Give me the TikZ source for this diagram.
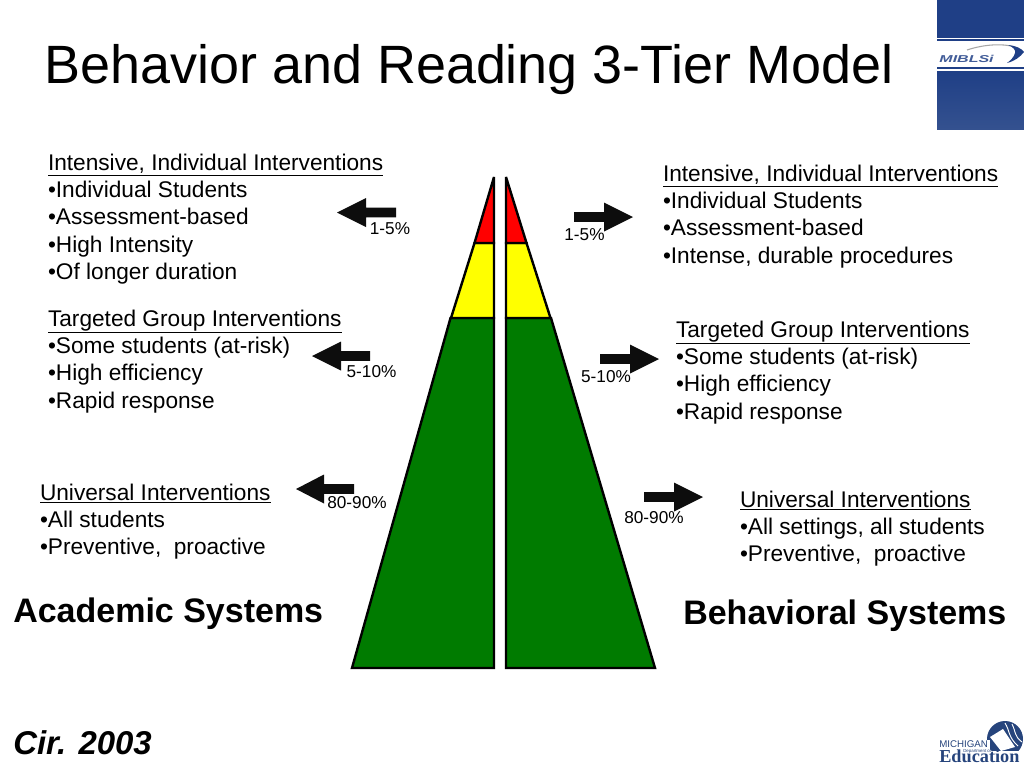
\documentclass[tikz,border=0pt]{standalone}
\usepackage{fontspec}
\setmainfont{Liberation Sans}
\newfontfamily\edufont{Liberation Serif}
\definecolor{tiergreen}{HTML}{007B00}
\definecolor{tieryellow}{HTML}{FFFF00}
\definecolor{tierred}{HTML}{FF0000}
\definecolor{logoblue}{HTML}{1F3F86}
\definecolor{logolight}{HTML}{34518F}
\definecolor{edublue}{HTML}{26447C}
\tikzset{
  tier/.style={draw=black,line width=1.8pt,line join=miter},
  blockarrow/.style={fill=black!95!white,draw=none},
  txtblock/.style={inner sep=0pt,outer sep=0pt,align=left,anchor=base west,font=\fontsize{17}{20.5}\selectfont},
  pct/.style={inner sep=0pt,anchor=base,font=\fontsize{12.9}{15}\selectfont},
  sysname/.style={inner sep=0pt,anchor=base west,font=\fontsize{25.5}{30}\selectfont\bfseries},
}
% tip x, base x, tail x, centre y
\newcommand{\harrow}[4]{\fill[blockarrow] (#1,#4) -- (#2,#4-14.5) -- (#2,#4-4.8) -- (#3,#4-4.8) -- (#3,#4+4.8) -- (#2,#4+4.8) -- (#2,#4+14.5) -- cycle;}
\begin{document}
\begin{tikzpicture}[x=0.75pt,y=-0.75pt]
\useasboundingbox[fill=white] (0,0) rectangle (1024,768);

% logo top right
\shade[top color=logoblue,bottom color=logoblue] (937,0) rectangle (1024,37);
\shade[top color=logoblue,bottom color=logolight] (937,71) rectangle (1024,129);
\draw[logoblue,line width=0.8pt] (937,40) -- (1024,40);
\draw[logoblue,line width=0.8pt] (937,68) -- (1024,68);
\node[inner sep=0pt,anchor=base west,xscale=1.6,font=\fontsize{7.5}{9}\selectfont\itshape\bfseries,text=logoblue!85!white] (miblsi) at (939,62.5) {MIBLSi};
\draw[gray!70,line width=0.8pt] (967,50) .. controls (985,44) and (1005,43) .. (1018,48);
\fill[logoblue] (1007,63) .. controls (1015,61) and (1020,57) .. (1024,52) .. controls (1021,48) and (1016,46) .. (1008,45) .. controls (1013,47) and (1016,50) .. (1015,53) .. controls (1014,57) and (1011,60) .. (1007,63) -- cycle;

% pyramid, left half
\draw[tier,fill=tiergreen] (450.5,318) -- (494,318) -- (494,668) -- (352,668) -- cycle;
\draw[tier,fill=tieryellow] (474.5,243) -- (494,243) -- (494,318) -- (451,318) -- cycle;
\draw[tier,fill=tierred,miter limit=2] (494,177) -- (494,243) -- (474.5,243) -- cycle;
% pyramid, right half
\draw[tier,fill=tiergreen] (506,318) -- (551,318) -- (655,668) -- (506,668) -- cycle;
\draw[tier,fill=tieryellow] (506,243) -- (526.5,243) -- (550.5,318) -- (506,318) -- cycle;
\draw[tier,fill=tierred,miter limit=2] (506,177) -- (526.5,243) -- (506,243) -- cycle;

% arrows
\harrow{337}{366}{396}{212.5}
\harrow{633}{604}{574}{217}
\harrow{312}{341}{370}{356}
\harrow{659}{630}{600}{359}
\harrow{296}{324}{354}{489}
\harrow{703}{674}{644}{497}

% title
\node[inner sep=0pt,anchor=base west,font=\fontsize{40.46}{48}\selectfont] (title) at (44,83) {Behavior and Reading 3-Tier Model};

% left blocks (positions are the baseline of the last line)
\node[txtblock] (a1) at (48,279.4) {\underline{Intensive, Individual Interventions}\\•Individual Students\\•Assessment-based\\•High Intensity\\•Of longer duration};
\node[txtblock] (a2) at (48,408) {\underline{Targeted Group Interventions}\\•Some students (at-risk)\\•High efficiency\\•Rapid response};
\node[txtblock] (a3) at (40,554.7) {\underline{Universal Interventions}\\•All students\\•Preventive,\ \ proactive};
% right blocks
\node[txtblock] (b1) at (663,263) {\underline{Intensive, Individual Interventions}\\•Individual Students\\•Assessment-based\\•Intense, durable procedures};
\node[txtblock] (b2) at (676,419) {\underline{Targeted Group Interventions}\\•Some students (at-risk)\\•High efficiency\\•Rapid response};
\node[txtblock] (b3) at (740,561.7) {\underline{Universal Interventions}\\•All settings, all students\\•Preventive,\ \ proactive};

% percentages
\node[pct] (p1) at (390,234.2) {1-5\%};
\node[pct] (p2) at (584.5,240.7) {1-5\%};
\node[pct] (p3) at (371.5,377.2) {5-10\%};
\node[pct] (p4) at (606,382.7) {5-10\%};
\node[pct] (p5) at (357,508.7) {80-90\%};
\node[pct] (p6) at (654,523.2) {80-90\%};

% system names
\node[sysname] (s1) at (13,622.5) {Academic Systems};
\node[sysname] (s2) at (683,624.5) {Behavioral Systems};
\node[sysname,font=\fontsize{24.7}{28}\selectfont\bfseries\itshape] (cir) at (13,754) {Cir. 2003};

% logo bottom right
\fill[edublue] (1005,739) circle (18);
\fill[white] (990,737) -- (1003,729) -- (1015,747) -- (1001,751) -- cycle;
\draw[white,line width=0.7pt] (1005,723) .. controls (1010,731) and (1008,737) .. (1018,746);
\draw[white,line width=0.7pt] (1012,724) .. controls (1016,732) and (1014,736) .. (1022,742);
\fill[white] (980,751) rectangle (1024,768);
\fill[white] (983,740) rectangle (990,751);
\node[inner sep=0pt,anchor=base west,font=\fontsize{7.3}{9}\selectfont,text=edublue] (mi) at (939,747) {MICHIGAN};
\node[inner sep=0pt,anchor=base west,font=\fontsize{3.3}{4}\selectfont,text=edublue] (dept) at (963,752.5) {Department of};
\node[inner sep=0pt,anchor=base west,font=\fontsize{13.7}{16}\selectfont\edufont\bfseries,text=edublue] (edu) at (939,762.5) {Education};
\end{tikzpicture}
\end{document}
